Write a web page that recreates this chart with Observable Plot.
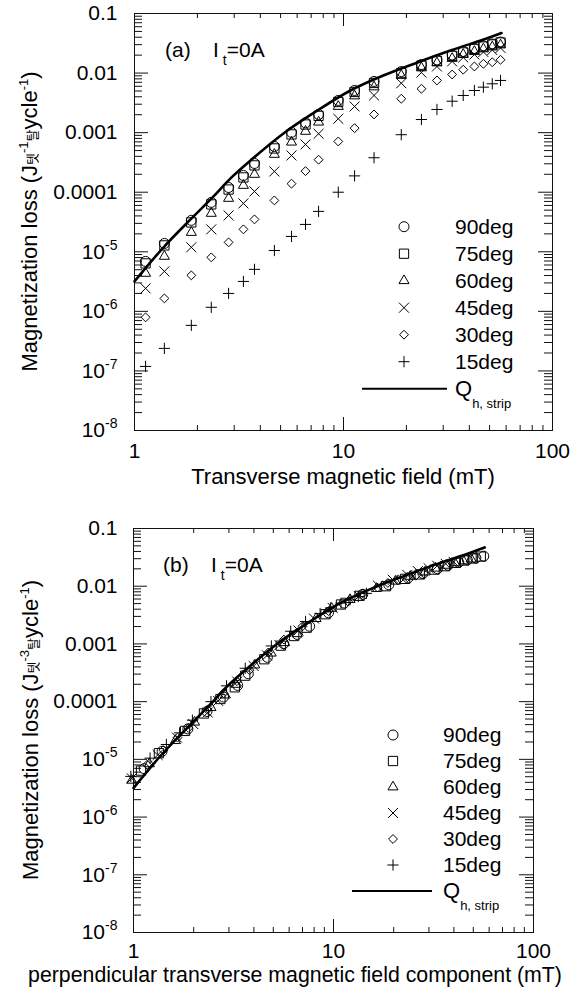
<!DOCTYPE html>
<html><head><meta charset="utf-8">
<script src="https://cdn.jsdelivr.net/npm/d3@7"></script>
<script src="https://cdn.jsdelivr.net/npm/@observablehq/plot@0.6"></script>
<style>
html,body{margin:0;padding:0;background:#fff;}
#chart svg{display:block;}
</style></head>
<body><div id="chart"></div>
<script>
// ---------- data ----------
const angleLabels = ["90deg","75deg","60deg","45deg","30deg","15deg"];

// panel (a): transverse field (mT), shared by all series
const fieldA = [1.13, 1.39, 1.87, 2.33, 2.82, 3.32, 3.75, 4.67, 5.64, 6.58, 7.60, 9.44, 11.3, 14.0, 18.9, 23.6, 28.0, 33.1, 37.4, 42.3, 46.7, 51.5, 56.4];

const loss90 = [6.90e-6, 1.38e-5, 3.37e-5, 6.75e-5, 1.20e-4, 1.91e-4, 3.04e-4, 5.86e-4, 1.01e-3, 1.46e-3, 2.02e-3, 3.47e-3, 5.10e-3, 7.23e-3, 1.06e-2, 1.39e-2, 1.66e-2, 2.01e-2, 2.30e-2, 2.59e-2, 2.85e-2, 3.08e-2, 3.32e-2];
const loss75 = [6.38e-6, 1.28e-5, 3.11e-5, 6.24e-5, 1.11e-4, 1.77e-4, 2.82e-4, 5.43e-4, 9.33e-4, 1.37e-3, 1.91e-3, 3.27e-3, 4.82e-3, 6.82e-3, 1.00e-2, 1.34e-2, 1.60e-2, 1.94e-2, 2.22e-2, 2.54e-2, 2.79e-2, 3.02e-2, 3.26e-2];
const loss60 = [4.34e-6, 8.37e-6, 2.11e-5, 4.41e-5, 7.87e-5, 1.30e-4, 1.99e-4, 4.31e-4, 6.92e-4, 1.05e-3, 1.50e-3, 2.75e-3, 4.13e-3, 5.85e-3, 9.12e-3, 1.22e-2, 1.48e-2, 1.76e-2, 2.05e-2, 2.30e-2, 2.54e-2, 2.74e-2, 2.96e-2];
const loss45 = [2.43e-6, 4.69e-6, 1.19e-5, 2.38e-5, 4.08e-5, 6.49e-5, 1.03e-4, 2.23e-4, 4.14e-4, 6.34e-4, 9.58e-4, 1.71e-3, 2.75e-3, 4.21e-3, 6.76e-3, 1.02e-2, 1.29e-2, 1.57e-2, 1.83e-2, 2.05e-2, 2.26e-2, 2.44e-2, 2.64e-2];
const loss30 = [7.93e-7, 1.65e-6, 4.02e-6, 8.05e-6, 1.44e-5, 2.38e-5, 3.50e-5, 7.28e-5, 1.39e-4, 2.26e-4, 3.51e-4, 7.11e-4, 1.19e-3, 2.02e-3, 3.71e-3, 5.45e-3, 7.52e-3, 9.46e-3, 1.14e-2, 1.29e-2, 1.43e-2, 1.52e-2, 1.67e-2];
const loss15 = [1.19e-7, 2.39e-7, 5.82e-7, 1.17e-6, 2.00e-6, 3.18e-6, 5.07e-6, 1.05e-5, 1.81e-5, 2.88e-5, 4.77e-5, 1.00e-4, 1.88e-4, 3.79e-4, 9.23e-4, 1.66e-3, 2.45e-3, 3.37e-3, 4.21e-3, 5.10e-3, 5.80e-3, 6.61e-3, 7.52e-3];

// panel (b): perpendicular field component (mT); null = outside the plotted range
const perp90 = [1.13, 1.39, 1.87, 2.33, 2.82, 3.32, 3.75, 4.67, 5.64, 6.58, 7.60, 9.44, 11.3, 14.0, 18.9, 23.6, 28.0, 33.1, 37.4, 42.3, 46.7, 51.5, 56.4];
const perp75 = [1.09, 1.34, 1.81, 2.25, 2.72, 3.21, 3.62, 4.51, 5.45, 6.36, 7.34, 9.12, 10.9, 13.5, 18.3, 22.8, 27.0, 32.0, 36.1, 40.9, 45.1, 49.7, 54.5];
const perp60 = [0.98, 1.20, 1.62, 2.02, 2.44, 2.88, 3.25, 4.04, 4.88, 5.70, 6.58, 8.18, 9.79, 12.1, 16.4, 20.4, 24.2, 28.7, 32.4, 36.6, 40.4, 44.6, 48.8];
const perp45 = [null, 0.98, 1.32, 1.65, 1.99, 2.35, 2.65, 3.30, 3.99, 4.65, 5.37, 6.68, 7.99, 9.90, 13.4, 16.7, 19.8, 23.4, 26.4, 29.9, 33.0, 36.4, 39.9];
const perp30 = [null, null, null, 1.17, 1.41, 1.66, 1.88, 2.34, 2.82, 3.29, 3.80, 4.72, 5.65, 7.00, 9.45, 11.8, 14.0, 16.6, 18.7, 21.2, 23.4, 25.8, 28.2];
const perp15 = [null, null, null, null, null, null, 0.97, 1.21, 1.46, 1.70, 1.97, 2.44, 2.92, 3.62, 4.89, 6.11, 7.25, 8.57, 9.68, 10.9, 12.1, 13.3, 14.6];

// Q_h,strip curve (same in both panels)
const stripField = [1.0, 1.377, 1.874, 2.388, 2.879, 3.59, 5.16, 7.51, 10.8, 15.5, 22.6, 32.5, 46.8, 57.0];
const stripLoss  = [3.18e-6, 1.19e-5, 3.63e-5, 8.5e-5, 1.71e-4, 3.42e-4, 9.7e-4, 2.36e-3, 5.1e-3, 9.1e-3, 1.51e-2, 2.39e-2, 3.66e-2, 4.7e-2];

// axis ticks
const xMajorTicks = [1, 10, 100];
const xTickLabels = ["1", "10", "100"];
const xMinorTicks = [2,3,4,5,6,7,8,9,20,30,40,50,60,70,80,90];
const yMajorTicks = [1e-8, 1e-7, 1e-6, 1e-5, 1e-4, 1e-3, 1e-2, 1e-1];
const yTickLabels = ["10^-8", "10^-7", "10^-6", "10^-5", "0.0001", "0.001", "0.01", "0.1"];
const yMinorTicks = [1e-8,1e-7,1e-6,1e-5,1e-4,1e-3,1e-2].flatMap(d => [2,3,4,5,6,7,8,9].map(k => +(k*d).toPrecision(3)));

// ---------- styles ----------
const FONT = "'Liberation Sans', Arial, Helvetica, sans-serif";
const KR = "'Noto Sans CJK KR', 'Noto Sans CJK SC', sans-serif";
const symbolNames = ["circle", "square2", "triangle2", "times", "diamond2", "plus"];
const symbolTypes = [d3.symbolCircle, d3.symbolSquare2, d3.symbolTriangle2, d3.symbolTimes, d3.symbolDiamond2, d3.symbolPlus];
const symbolR = [5, 5.9, 4.8, 4.6, 4.0, 3.7];
const lossSeries = [loss90, loss75, loss60, loss45, loss30, loss15];
const perpSeries = [perp90, perp75, perp60, perp45, perp30, perp15];

function buildPanel(cfg) {
  const fw = 577 - cfg.left - cfg.right;
  const fh = cfg.height - cfg.top - cfg.bottom;
  const xLab = new Map(xMajorTicks.map((v, i) => [v, xTickLabels[i]]));
  const yLab = new Map(yMajorTicks.map((v, i) => [v, yTickLabels[i]]));
  const lineRows = stripField.map((x, i) => ({x, y: stripLoss[i]}));
  const dotMarks = angleLabels.map((a, s) => {
    const xs = cfg.xSeries[s];
    const rows = xs.map((x, i) => ({x, y: lossSeries[s][i]})).filter(d => d.x != null);
    return Plot.dot(rows, {x: "x", y: "y", symbol: symbolNames[s], r: symbolR[s], stroke: "black", strokeWidth: 1, fill: "none"});
  });
  const svg = Plot.plot({
    width: 577, height: cfg.height,
    marginLeft: cfg.left, marginRight: cfg.right, marginTop: cfg.top, marginBottom: cfg.bottom,
    style: {fontFamily: FONT, fontSize: "21px", color: "black", background: "white"},
    x: {type: "log", domain: [1, 100]},
    y: {type: "log", domain: [1e-8, 0.1]},
    marks: [
      Plot.ruleY(yMinorTicks, {y: d => d, insetRight: fw - 8, stroke: "#111"}),
      Plot.ruleY(yMinorTicks, {y: d => d, insetLeft: fw - 8, stroke: "#111"}),
      Plot.ruleY(yMajorTicks, {y: d => d, insetRight: fw - 14, stroke: "#111"}),
      Plot.ruleY(yMajorTicks, {y: d => d, insetLeft: fw - 14, stroke: "#111"}),
      Plot.ruleX(xMinorTicks, {x: d => d, insetTop: fh - 5, stroke: "#111"}),
      Plot.ruleX(xMinorTicks, {x: d => d, insetBottom: fh - 5, stroke: "#111"}),
      Plot.ruleX(xMajorTicks, {x: d => d, insetTop: fh - 13, stroke: "#111"}),
      Plot.ruleX(xMajorTicks, {x: d => d, insetBottom: fh - 13, stroke: "#111"}),
      Plot.frame({stroke: "#111", strokeWidth: 1}),
      Plot.axisX({ticks: xMajorTicks, tickSize: 0, tickPadding: cfg.xPad, tickFormat: d => xLab.get(d), label: null, fontSize: 21}),
      Plot.axisY({ticks: yMajorTicks, tickSize: 0, tickPadding: cfg.yPad, tickFormat: d => yLab.get(d), label: null, fontSize: 21}),
      Plot.line(lineRows, {x: "x", y: "y", stroke: "black", strokeWidth: 2.6, curve: "catmull-rom"}),
      ...dotMarks
    ]
  });

  const root = d3.select(svg);
  // superscripts on y tick labels
  root.selectAll('g[aria-label="y-axis tick label"] text').each(function() {
    const m = this.textContent.match(/^(.*)\^(.*)$/);
    if (!m) return;
    const t = d3.select(this);
    t.text(null);
    t.append("tspan").text(m[1]);
    t.append("tspan").attr("dy", -9).attr("font-size", 14).text(m[2]);
  });

  // x axis title
  root.append("text").attr("x", cfg.xTitleX).attr("y", cfg.xTitleY).attr("text-anchor", "middle")
    .attr("font-family", FONT).attr("font-size", cfg.xTitleSize).attr("fill", "black").text(cfg.xTitle);

  // y axis title
  const yt = root.append("text")
    .attr("transform", `translate(${cfg.yTitleX},${cfg.top + fh / 2}) rotate(-90)`)
    .attr("text-anchor", "middle").attr("font-family", FONT).attr("font-size", 22).attr("fill", "black");
  yt.append("tspan").text("Magnetization loss (J");
  yt.append("tspan").attr("font-family", KR).attr("font-size", 13).text("텟");
  yt.append("tspan").attr("font-size", 13).attr("dy", -9).text(cfg.yExp);
  yt.append("tspan").attr("font-family", KR).attr("font-size", 13).attr("dy", 9).text("탈");
  yt.append("tspan").text("ycle");
  yt.append("tspan").attr("font-size", 13).attr("dy", -9).text("-1");
  yt.append("tspan").attr("dy", 9).text(")");

  // panel annotation "(a)  I_t=0A"
  const an = root.append("text").attr("x", cfg.annX).attr("y", cfg.annY).attr("text-anchor", "start")
    .attr("font-family", FONT).attr("font-size", 21).attr("fill", "black");
  an.append("tspan").text(cfg.panelLabel);
  an.append("tspan").attr("x", cfg.annX + 48).text("I");
  an.append("tspan").attr("font-size", 14).attr("dx", 4).attr("dy", 8).text("t");
  an.append("tspan").attr("dy", -8).text("=0A");

  // legend
  const lg = root.append("g").attr("font-family", FONT).attr("font-size", 21).attr("fill", "black")
    .attr("text-anchor", "start");
  angleLabels.forEach((a, i) => {
    const y = cfg.legY0 + i * cfg.legStep;
    lg.append("path").attr("transform", `translate(${cfg.legSymX},${y})`)
      .attr("d", d3.symbol(symbolTypes[i], Math.PI * symbolR[i] * symbolR[i])())
      .attr("fill", "none").attr("stroke", "black").attr("stroke-width", 1);
    lg.append("text").attr("x", cfg.legTextX).attr("y", y).attr("dy", "0.33em").text(a);
  });
  const yq = cfg.legY0 + 6 * cfg.legStep;
  lg.append("line").attr("x1", cfg.legLineX1).attr("x2", cfg.legLineX2).attr("y1", yq).attr("y2", yq)
    .attr("stroke", "black").attr("stroke-width", 2);
  const q = lg.append("text").attr("x", cfg.legTextX).attr("y", yq).attr("dy", "0.33em").attr("font-size", 22);
  q.append("tspan").text("Q");
  q.append("tspan").attr("font-size", 13).attr("dy", 12).text("h, strip");

  return svg;
}

const chart = document.getElementById("chart");
chart.appendChild(buildPanel({
  height: 497, left: 134, right: 25, top: 13, bottom: 67, xPad: 13, yPad: 17,
  xSeries: [fieldA, fieldA, fieldA, fieldA, fieldA, fieldA],
  xTitle: "Transverse magnetic field (mT)", xTitleX: 343, xTitleY: 484, xTitleSize: 22,
  yTitleX: 37, yExp: "-1",
  panelLabel: "(a)", annX: 165, annY: 57,
  legSymX: 404, legTextX: 455, legY0: 226.7, legStep: 27, legLineX1: 362, legLineX2: 447
}));
chart.appendChild(buildPanel({
  height: 500, left: 133, right: 44, top: 31, bottom: 65, xPad: 11, yPad: 16,
  xSeries: perpSeries,
  xTitle: "perpendicular transverse magnetic field component (mT)", xTitleX: 295, xTitleY: 485, xTitleSize: 21.3,
  yTitleX: 38, yExp: "-3",
  panelLabel: "(b)", annX: 163, annY: 75,
  legSymX: 393, legTextX: 443, legY0: 238, legStep: 26, legLineX1: 352, legLineX2: 432
}));
</script>
</body></html>
